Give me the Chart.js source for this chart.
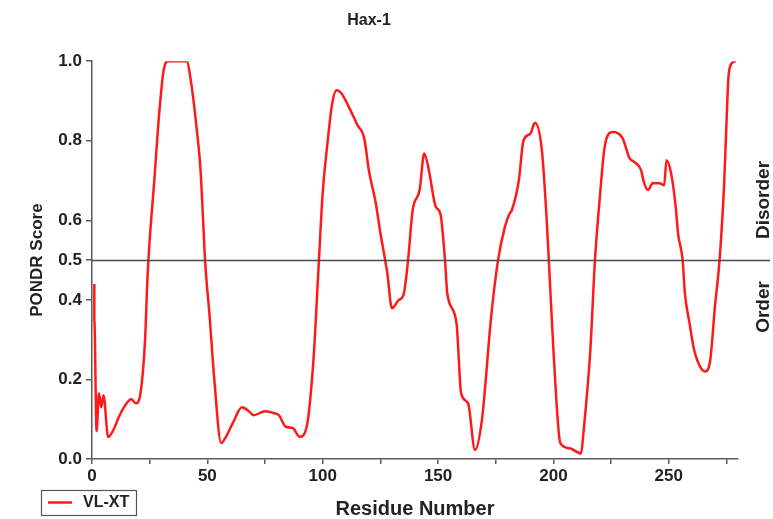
<!DOCTYPE html>
<html>
<head>
<meta charset="utf-8">
<script src="https://cdn.jsdelivr.net/npm/chart.js@4/dist/chart.umd.min.js"></script>
<style>
html,body{margin:0;padding:0;background:#fff;}
#wrap{width:773px;height:519px;position:relative;}
</style>
</head>
<body>
<div id="wrap"><canvas id="c" width="773" height="519"></canvas></div>
<script>
const chartTitle = "Hax-1";
const seriesLabel = "VL-XT";
const xTitle = "Residue Number";
const yTitle = "PONDR Score";
const yTickValues = [0, 0.2, 0.4, 0.5, 0.6, 0.8, 1.0];
const threshold = 0.5;
const regionLabels = ["Disorder", "Order"];

const residues = [1, 1, 2, 3, 4, 5, 7, 9, 12, 15, 17, 19, 21, 23, 24, 25, 27, 29, 31, 33, 41, 43, 45, 47, 48, 49, 51, 53, 56, 58, 61, 65, 68, 70, 75, 79, 81, 84, 87, 90, 93, 96, 98, 100, 102, 104, 106, 108, 112, 115, 118, 120, 123, 125, 128, 130, 133, 135, 137, 139, 142, 144, 146, 149, 151, 153, 154, 158, 160, 163, 166, 169, 173, 176, 179, 181, 182, 185, 187, 190, 192, 195, 197, 198, 200, 203, 207, 212, 213, 216, 218, 220, 222, 224, 226, 230, 233, 235, 238, 239, 241, 243, 246, 248, 249, 251, 253, 254, 256, 257, 259, 261, 264, 266, 268, 270, 272, 274, 275, 276, 278, 279];
const scores = [0.44, 0.35, 0.07, 0.165, 0.13, 0.16, 0.055, 0.07, 0.11, 0.14, 0.15, 0.14, 0.165, 0.30, 0.45, 0.55, 0.70, 0.86, 0.975, 1.0, 1.0, 0.945, 0.85, 0.73, 0.62, 0.5, 0.357, 0.2, 0.04, 0.055, 0.09, 0.13, 0.12, 0.11, 0.12, 0.115, 0.11, 0.081, 0.078, 0.056, 0.08, 0.25, 0.46, 0.67, 0.79, 0.89, 0.927, 0.92, 0.877, 0.84, 0.806, 0.726, 0.643, 0.568, 0.467, 0.379, 0.40, 0.412, 0.5, 0.626, 0.676, 0.768, 0.726, 0.634, 0.617, 0.5, 0.416, 0.341, 0.165, 0.14, 0.023, 0.098, 0.357, 0.5, 0.584, 0.617, 0.626, 0.70, 0.80, 0.818, 0.845, 0.776, 0.609, 0.5, 0.274, 0.04, 0.027, 0.014, 0.065, 0.274, 0.5, 0.65, 0.776, 0.818, 0.822, 0.806, 0.756, 0.747, 0.726, 0.70, 0.676, 0.693, 0.693, 0.688, 0.751, 0.718, 0.634, 0.568, 0.5, 0.416, 0.341, 0.274, 0.228, 0.22, 0.25, 0.383, 0.5, 0.693, 0.844, 0.969, 0.998, 1.0];

const points = residues.map((r, i) => ({x: r, y: scores[i]}));
const FONT = "'Liberation Sans', Arial, sans-serif";
const AXIS = '#5a5a5a';

const extras = {
  id: 'extras',
  afterDatasetsDraw(chart) {
    const ctx = chart.ctx;
    const ca = chart.chartArea;
    const ys = chart.scales.y;
    const yp = Math.round(ys.getPixelForValue(threshold)) + 0.5;
    ctx.save();
    ctx.strokeStyle = '#4a4a4a';
    ctx.lineWidth = 1.5;
    ctx.beginPath();
    ctx.moveTo(ca.left, yp);
    ctx.lineTo(770, yp);
    ctx.stroke();
    ctx.fillStyle = '#222';
    ctx.font = "bold 19px " + FONT;
    ctx.textAlign = 'center';
    ctx.textBaseline = 'middle';
    const drawRot = (t, x, y) => {
      ctx.save(); ctx.translate(x, y); ctx.rotate(-Math.PI / 2); ctx.fillText(t, 0, 0); ctx.restore();
    };
    drawRot(regionLabels[0], 764, 200);
    drawRot(regionLabels[1], 764, 307);
    ctx.strokeStyle = '#555';
    ctx.lineWidth = 1.2;
    ctx.strokeRect(41.5, 490.5, 95, 25);
    ctx.strokeStyle = chart.data.datasets[0].borderColor;
    ctx.lineWidth = 2.5;
    ctx.beginPath(); ctx.moveTo(48, 502.5); ctx.lineTo(72, 502.5); ctx.stroke();
    ctx.fillStyle = '#222';
    ctx.font = "bold 16px " + FONT;
    ctx.textAlign = 'left';
    ctx.fillText(chart.data.datasets[0].label, 83, 503);
    ctx.restore();
  }
};

new Chart(document.getElementById('c'), {
  type: 'line',
  data: {
    datasets: [{
      label: seriesLabel,
      data: points,
      borderColor: 'rgb(255,25,25)',
      borderWidth: 2.5,
      pointRadius: 0,
      cubicInterpolationMode: 'monotone',
      fill: false
    }]
  },
  options: {
    responsive: false,
    animation: false,
    layout: {padding: {left: 0, right: 35, top: 0, bottom: 0}},
    plugins: {
      legend: {display: false},
      tooltip: {enabled: false},
      title: {
        display: true,
        text: chartTitle,
        color: '#222',
        font: {family: FONT, size: 16, weight: 'bold', lineHeight: 1.2},
        padding: {top: 11, bottom: 31}
      }
    },
    scales: {
      x: {
        type: 'linear',
        min: 0,
        max: 280,
        afterBuildTicks(s) {
          const t = [];
          for (let v = 0; v <= 275; v += 25) t.push({value: v});
          s.ticks = t;
        },
        afterFit(s) { s.height = 60; },
        ticks: {
          color: '#222',
          font: {family: FONT, size: 17, weight: 'bold'},
          padding: 2,
          maxRotation: 0,
          autoSkip: false,
          callback: v => (v % 50 === 0 ? String(v) : '')
        },
        grid: {display: true, drawOnChartArea: false, drawTicks: true, tickLength: 5, color: AXIS, lineWidth: 1.5},
        border: {display: true, color: AXIS, width: 1.5},
        title: {
          display: true,
          text: xTitle,
          color: '#222',
          font: {family: FONT, size: 20, weight: 'bold', lineHeight: 1},
          padding: {top: 0, bottom: 0}
        }
      },
      y: {
        type: 'linear',
        min: 0,
        max: 1,
        afterBuildTicks(s) { s.ticks = yTickValues.map(v => ({value: v})); },
        afterFit(s) { s.width = 92; },
        ticks: {
          color: '#222',
          font: {family: FONT, size: 17, weight: 'bold'},
          padding: 4,
          autoSkip: false,
          callback: v => Number(v).toFixed(1)
        },
        grid: {display: true, drawOnChartArea: false, drawTicks: true, tickLength: 6, color: AXIS, lineWidth: 1.5},
        border: {display: true, color: AXIS, width: 1.5},
        title: {
          display: true,
          text: yTitle,
          color: '#222',
          font: {family: FONT, size: 17, weight: 'bold', lineHeight: 1.2},
          padding: {top: 27, bottom: 0}
        }
      }
    }
  },
  plugins: [extras]
});
</script>
</body>
</html>
